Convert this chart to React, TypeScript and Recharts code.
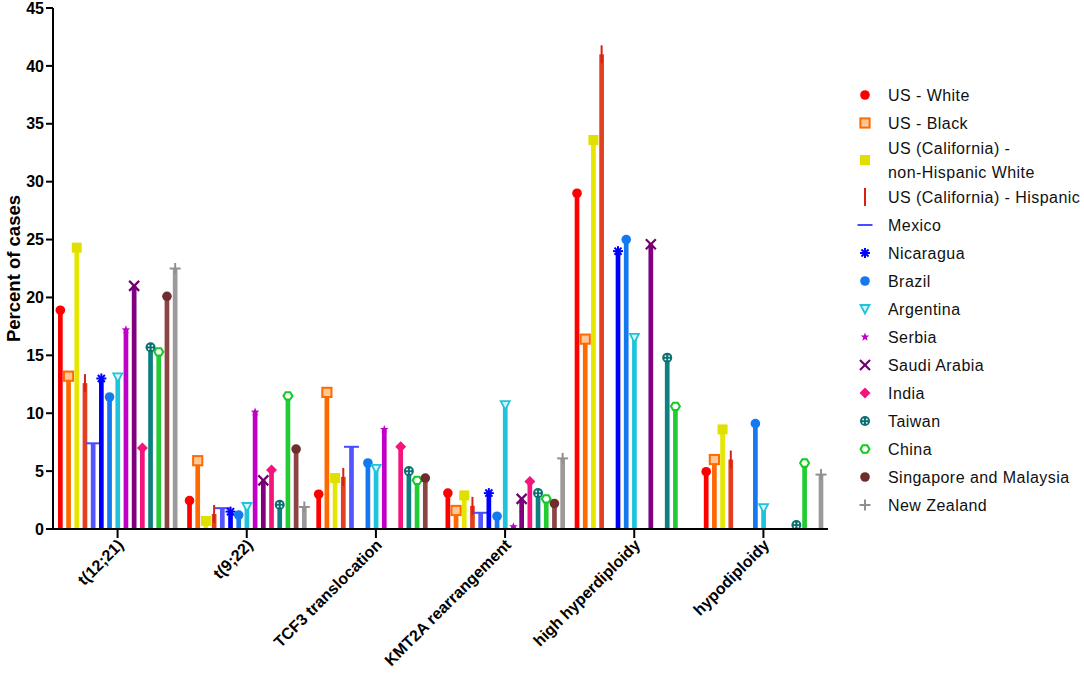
import React from "react";
import { BarChart, Bar, XAxis, YAxis, Legend, Label } from "recharts";

const categories = [
  "t(12;21)",
  "t(9;22)",
  "TCF3 translocation",
  "KMT2A rearrangement",
  "high hyperdiploidy",
  "hypodiploidy",
];

// percent of cases per category, null = not reported
const usWhite = [18.9, 2.45, 3.0, 3.1, 29.0, 4.95];
const usBlack = [13.2, 5.9, 11.8, 1.6, 16.4, 6.0];
const caNonHispanicWhite = [24.3, 0.7, 4.4, 2.9, 33.6, 8.6];
const caHispanic = [12.6, 1.3, 4.5, 2.0, 41.0, 6.0];
const mexico = [7.4, 1.8, 7.1, 1.4, null, null];
const nicaragua = [13.0, 1.5, null, 3.1, 24.0, null];
const brazil = [11.4, 1.2, 5.7, 1.1, 25.0, 9.1];
const argentina = [13.1, 1.9, 5.2, 10.7, 16.5, 1.8];
const serbia = [17.2, 10.1, 8.6, 0.2, null, null];
const saudiArabia = [21.0, 4.2, null, 2.6, 24.6, null];
const india = [7.0, 5.1, 7.1, 4.1, null, null];
const taiwan = [15.7, 2.1, 5.0, 3.1, 14.8, 0.35];
const china = [15.3, 11.5, 4.2, 2.6, 10.6, 5.7];
const singaporeMalaysia = [20.1, 6.9, 4.4, 2.2, null, null];
const newZealand = [22.5, 1.9, null, 6.1, null, 4.7];

const yTicks = [0, 5, 10, 15, 20, 25, 30, 35, 40, 45];

const series = [
  { key: "usWhite", label: ["US - White"], values: usWhite, bar: "#ff0000", mark: "#ff0000", shape: "circle" },
  { key: "usBlack", label: ["US - Black"], values: usBlack, bar: "#ff6a00", mark: "#ff6a00", shape: "squareOpen" },
  { key: "caNhw", label: ["US (California) -", "non-Hispanic White"], values: caNonHispanicWhite, bar: "#e6e600", mark: "#e0e000", shape: "square" },
  { key: "caHisp", label: ["US (California) - Hispanic"], values: caHispanic, bar: "#e2401f", mark: "#d8200e", shape: "vline" },
  { key: "mexico", label: ["Mexico"], values: mexico, bar: "#5555ff", mark: "#4a4aff", shape: "hline" },
  { key: "nicaragua", label: ["Nicaragua"], values: nicaragua, bar: "#0000ff", mark: "#0000ff", shape: "asterisk" },
  { key: "brazil", label: ["Brazil"], values: brazil, bar: "#1479f0", mark: "#1479f0", shape: "circle" },
  { key: "argentina", label: ["Argentina"], values: argentina, bar: "#1ec4dc", mark: "#1ec4dc", shape: "triangle" },
  { key: "serbia", label: ["Serbia"], values: serbia, bar: "#c000c8", mark: "#c000c8", shape: "star" },
  { key: "saudi", label: ["Saudi Arabia"], values: saudiArabia, bar: "#800080", mark: "#700070", shape: "cross" },
  { key: "india", label: ["India"], values: india, bar: "#f5147c", mark: "#f5147c", shape: "diamond" },
  { key: "taiwan", label: ["Taiwan"], values: taiwan, bar: "#0e8080", mark: "#0b7070", shape: "dotted" },
  { key: "china", label: ["China"], values: china, bar: "#22cc33", mark: "#11cc22", shape: "hexOpen" },
  { key: "singapore", label: ["Singapore and Malaysia"], values: singaporeMalaysia, bar: "#8d4444", mark: "#6e2e2e", shape: "circle" },
  { key: "nz", label: ["New Zealand"], values: newZealand, bar: "#9a9a9a", mark: "#909090", shape: "plus" },
];

const rows = categories.map((name, i) => {
  const row: any = { name };
  series.forEach((s) => {
    row[s.key] = s.values[i];
  });
  return row;
});

const FONT = "'Liberation Sans', Arial, sans-serif";

function marker(shape: string, cx: number, cy: number, c: string) {
  switch (shape) {
    case "circle":
      return <circle cx={cx} cy={cy} r={4.8} fill={c} />;
    case "squareOpen":
      return <rect x={cx - 4.6} y={cy - 4.6} width={9.2} height={9.2} fill="#ffc896" stroke={c} strokeWidth={2} />;
    case "square":
      return <rect x={cx - 5} y={cy - 5} width={10} height={10} fill={c} />;
    case "vline":
      return <line x1={cx} y1={cy - 9} x2={cx} y2={cy + 9} stroke={c} strokeWidth={2} />;
    case "hline":
      return <line x1={cx - 7.5} y1={cy} x2={cx + 7.5} y2={cy} stroke={c} strokeWidth={2} />;
    case "asterisk": {
      const r = 5;
      const d = r * 0.707;
      return (
        <g stroke={c} strokeWidth={2}>
          <line x1={cx - r} y1={cy} x2={cx + r} y2={cy} />
          <line x1={cx} y1={cy - r} x2={cx} y2={cy + r} />
          <line x1={cx - d} y1={cy - d} x2={cx + d} y2={cy + d} />
          <line x1={cx - d} y1={cy + d} x2={cx + d} y2={cy - d} />
        </g>
      );
    }
    case "triangle":
      return (
        <polygon
          points={`${cx - 4.5},${cy - 4} ${cx + 4.5},${cy - 4} ${cx},${cy + 4.5}`}
          fill="#d8f6fa"
          stroke={c}
          strokeWidth={1.8}
        />
      );
    case "star": {
      const pts: string[] = [];
      for (let k = 0; k < 10; k++) {
        const r = k % 2 === 0 ? 4.5 : 1.9;
        const a = -Math.PI / 2 + (k * Math.PI) / 5;
        pts.push(`${cx + r * Math.cos(a)},${cy + r * Math.sin(a)}`);
      }
      return <polygon points={pts.join(" ")} fill={c} />;
    }
    case "cross":
      return (
        <g stroke={c} strokeWidth={2.2}>
          <line x1={cx - 5} y1={cy - 5} x2={cx + 5} y2={cy + 5} />
          <line x1={cx - 5} y1={cy + 5} x2={cx + 5} y2={cy - 5} />
        </g>
      );
    case "diamond":
      return <polygon points={`${cx},${cy - 5.5} ${cx + 5.5},${cy} ${cx},${cy + 5.5} ${cx - 5.5},${cy}`} fill={c} />;
    case "dotted":
      return (
        <g>
          <circle cx={cx} cy={cy} r={5} fill={c} />
          <circle cx={cx - 1.8} cy={cy - 1.6} r={0.9} fill="#fff" />
          <circle cx={cx + 1.8} cy={cy - 1.6} r={0.9} fill="#fff" />
          <circle cx={cx - 1.8} cy={cy + 1.8} r={0.9} fill="#fff" />
          <circle cx={cx + 1.8} cy={cy + 1.8} r={0.9} fill="#fff" />
        </g>
      );
    case "hexOpen": {
      const pts: string[] = [];
      for (let k = 0; k < 6; k++) {
        const a = (k * Math.PI) / 3;
        pts.push(`${cx + 4.5 * Math.cos(a)},${cy + 4.2 * Math.sin(a)}`);
      }
      return <polygon points={pts.join(" ")} fill="#fff" stroke={c} strokeWidth={2} />;
    }
    case "plus":
      return (
        <g stroke={c} strokeWidth={2}>
          <line x1={cx - 5.5} y1={cy} x2={cx + 5.5} y2={cy} />
          <line x1={cx} y1={cy - 5.5} x2={cx} y2={cy + 5.5} />
        </g>
      );
    default:
      return null;
  }
}

const makeShape = (s: any) => (props: any) => {
  const { x, y, width, height, payload } = props;
  const v = payload ? payload[s.key] : null;
  if (v == null || x == null || y == null) return <g />;
  const cx = x + width / 2;
  return (
    <g>
      <rect x={x} y={y} width={width} height={Math.max(height, 0)} fill={s.bar} />
      {marker(s.shape, cx, y, s.mark)}
    </g>
  );
};

const CategoryTick = ({ x, y, payload }: any) => (
  <g transform={`translate(${x + 7},${y + 6})`}>
    <text
      x={0}
      y={0}
      textAnchor="end"
      transform="rotate(-45)"
      fontFamily={FONT}
      fontWeight={700}
      fontSize={16}
      fill="#000"
    >
      {payload.value}
    </text>
  </g>
);

const SeriesLegend = () => {
  let cy = 15;
  const items: any[] = [];
  series.forEach((s, i) => {
    const extra = (s.label.length - 1) * 12;
    if (i > 0) cy += 28 + extra - (s.label.length > 1 ? 3 : 0);
    const center = cy;
    items.push(
      <g key={s.key}>
        {marker(s.shape, 13, center, s.mark)}
        {s.label.map((line, j) => (
          <text
            key={j}
            x={36}
            y={center - extra + j * 24}
            dy="0.36em"
            fontFamily={FONT}
            fontSize={16}
            letterSpacing={0.45}
            fill="#111"
          >
            {line}
          </text>
        ))}
      </g>
    );
    cy += extra - (s.label.length > 1 ? 3 : 0);
  });
  return (
    <svg width={232} height={450} style={{ display: "block" }}>
      {items}
    </svg>
  );
};

export default function App() {
  return (
    <div style={{ position: "absolute", left: 0, top: 0, width: 1084, height: 673, background: "#fff" }}>
      <BarChart
        width={1084}
        height={673}
        data={rows}
        margin={{ top: 8, right: 256, bottom: 10, left: 8 }}
        barSize={4.7}
        barGap={3.5}
        barCategoryGap={0}
      >
        <XAxis
          dataKey="name"
          interval={0}
          height={134}
          tickSize={9}
          axisLine={{ stroke: "#000", strokeWidth: 2 }}
          tickLine={{ stroke: "#000", strokeWidth: 2 }}
          tick={<CategoryTick />}
        />
        <YAxis
          domain={[0, 45]}
          ticks={yTicks}
          interval={0}
          width={45}
          tickSize={7}
          axisLine={{ stroke: "#000", strokeWidth: 2 }}
          tickLine={{ stroke: "#000", strokeWidth: 2 }}
          tick={{ fontFamily: FONT, fontWeight: 700, fontSize: 16, fill: "#000" }}
        >
          <Label
            content={({ viewBox }: any) => {
              const cy = viewBox.y + viewBox.height / 2;
              return (
                <text
                  x={0}
                  y={0}
                  transform={`translate(13,${cy}) rotate(-90)`}
                  textAnchor="middle"
                  dy="0.36em"
                  fontFamily={FONT}
                  fontWeight={700}
                  fontSize={18.5}
                  fill="#000"
                >
                  Percent of cases
                </text>
              );
            }}
          />
        </YAxis>
        <Legend
          layout="vertical"
          align="center"
          verticalAlign="middle"
          content={<SeriesLegend />}
          wrapperStyle={{ position: "absolute", left: 852, top: 80, width: 232, height: 450 }}
        />
        {series.map((s) => (
          <Bar key={s.key} dataKey={s.key} name={s.label.join(" ")} fill={s.bar} isAnimationActive={false} shape={makeShape(s)} />
        ))}
      </BarChart>
    </div>
  );
}
